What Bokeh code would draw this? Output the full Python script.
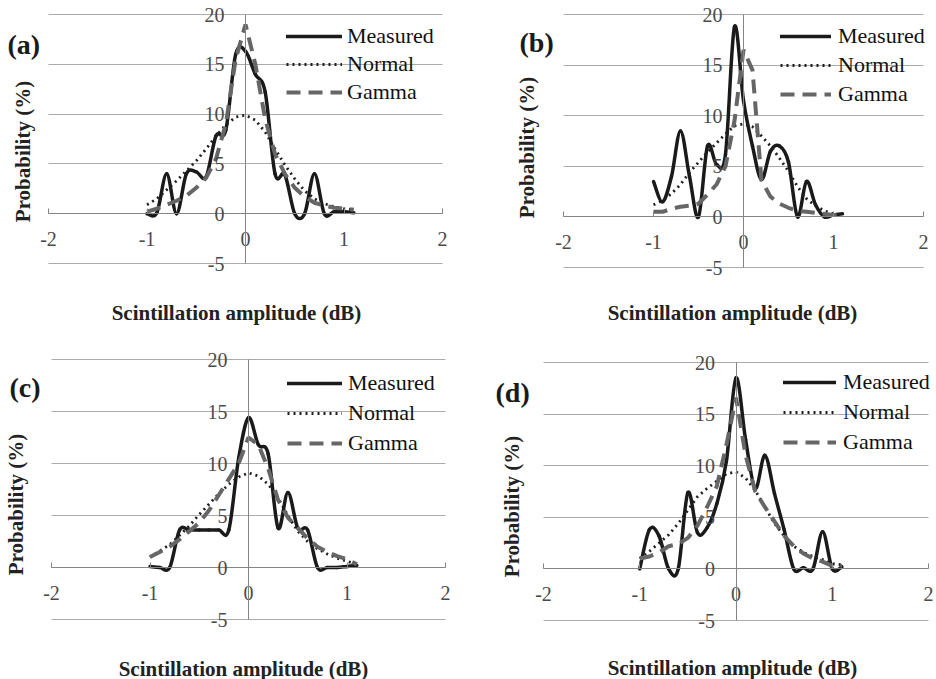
import math

from bokeh.embed import file_html
from bokeh.layouts import column, row
from bokeh.models import (FixedTicker, Grid, Label, Legend, LegendItem,
                          LinearAxis, Range1d)
from bokeh.plotting import figure
from bokeh.resources import INLINE

# ---------------------------------------------------------------------------
# Data: probability (%) of scintillation amplitude in 0.1 dB bins
# ---------------------------------------------------------------------------
amplitude = [-1.0, -0.9, -0.8, -0.7, -0.6, -0.5, -0.4, -0.3, -0.2, -0.1, 0.0,
             0.1, 0.2, 0.3, 0.4, 0.5, 0.6, 0.7, 0.8, 0.9, 1.0, 1.1]

x_ticks = [-2, -1, 0, 1, 2]
y_ticks = [-5, 0, 5, 10, 15, 20]

measured_a = [0.0, 0.1, 4.0, 0.0, 4.0, 4.2, 3.7, 7.8, 8.4, 16.0, 16.3,
              14.0, 12.2, 4.0, 3.9, 0.0, 0.0, 4.0, 0.0, 0.2, 0.2, 0.1]
normal_a = [0.9, 1.5, 2.4, 3.3, 4.3, 5.3, 6.5, 7.8, 8.9, 9.7, 9.9,
            9.4, 8.2, 6.5, 4.9, 3.5, 2.3, 1.5, 1.0, 0.7, 0.5, 0.4]
gamma_a = [0.2, 0.5, 0.9, 1.3, 1.8, 2.6, 3.6, 5.5, 9.0, 15.5, 19.0,
           15.0, 9.5, 6.0, 4.0, 2.6, 1.7, 1.1, 0.8, 0.6, 0.5, 0.4]

measured_b = [3.5, 1.5, 4.0, 8.5, 4.0, 0.0, 7.0, 5.2, 6.2, 18.8, 11.5,
              7.0, 3.7, 6.5, 7.0, 5.4, 0.0, 3.5, 1.2, 0.0, 0.2, 0.3]
normal_b = [1.2, 1.6, 2.3, 3.2, 4.4, 5.4, 6.4, 7.3, 8.2, 9.0, 9.2,
            8.9, 8.0, 7.0, 5.8, 4.5, 3.0, 1.8, 1.1, 0.6, 0.3, 0.2]
gamma_b = [0.5, 0.5, 0.8, 1.0, 1.1, 1.3, 2.2, 3.2, 5.0, 9.5, 16.5,
           14.5, 3.6, 2.0, 1.3, 0.9, 0.6, 0.5, 0.4, 0.3, 0.2, 0.1]

measured_c = [0.1, 0.0, 0.0, 3.6, 3.6, 3.6, 3.6, 3.6, 3.6, 10.5, 14.4,
              11.8, 10.9, 3.8, 7.2, 3.8, 3.6, 0.0, 0.0, 0.0, 0.1, 0.2]
normal_c = [1.0, 1.6, 2.2, 3.1, 4.0, 5.1, 6.1, 7.1, 8.0, 8.7, 9.1,
            8.8, 8.0, 6.7, 5.0, 3.5, 2.5, 1.8, 1.3, 0.9, 0.6, 0.3]
gamma_c = [1.0, 1.5, 2.0, 2.7, 3.5, 4.3, 5.5, 7.0, 8.5, 10.0, 12.5,
           11.8, 9.5, 6.5, 4.8, 3.8, 2.8, 2.0, 1.5, 1.1, 0.8, 0.3]

measured_d = [0.0, 3.8, 3.2, 0.0, 0.0, 7.4, 3.5, 4.0, 6.3, 10.4, 18.5,
              12.5, 7.8, 11.0, 7.3, 3.8, 0.0, 0.1, 0.0, 3.6, 0.0, 0.2]
normal_d = [1.0, 1.7, 2.5, 3.3, 4.4, 5.7, 7.0, 7.8, 8.5, 9.2, 9.4,
            8.8, 7.6, 6.0, 4.4, 3.2, 2.2, 1.6, 1.2, 0.9, 0.5, 0.4]
gamma_d = [1.0, 1.2, 1.6, 2.2, 2.4, 3.0, 4.2, 6.0, 8.0, 12.0, 16.6,
           11.0, 7.5, 6.0, 4.6, 3.2, 2.2, 1.5, 1.0, 0.7, 0.3, 0.3]

series_names = ["Measured", "Normal", "Gamma"]
x_title = "Scintillation amplitude (dB)"
y_title = "Probability (%)"

X_LIMITS = (-2, 2)
Y_LIMITS = (-5, 20)

SERIF = "Liberation Serif"
FIG_W = 468

MEASURED_STYLE = dict(line_color="#1a1a1a", line_width=3.5)
NORMAL_STYLE = dict(line_color="#1e1e1e", line_width=2.8, line_dash="2 4")
GAMMA_STYLE = dict(line_color="#666666", line_width=4, line_dash="14 8")


def smooth_segments(xs, ys):
    """Cubic Bezier pieces (Catmull-Rom) passing through every data point."""
    n = len(xs)
    seg = dict(x0=[], y0=[], x1=[], y1=[], cx0=[], cy0=[], cx1=[], cy1=[])
    for i in range(n - 1):
        a = max(i - 1, 0)
        d = min(i + 2, n - 1)
        seg["x0"].append(xs[i])
        seg["y0"].append(ys[i])
        seg["x1"].append(xs[i + 1])
        seg["y1"].append(ys[i + 1])
        seg["cx0"].append(xs[i] + (xs[i + 1] - xs[a]) / 6.0)
        seg["cy0"].append(ys[i] + (ys[i + 1] - ys[a]) / 6.0)
        seg["cx1"].append(xs[i + 1] - (xs[d] - xs[i]) / 6.0)
        seg["cy1"].append(ys[i + 1] - (ys[d] - ys[i]) / 6.0)
    return seg


def style_axis(axis, ticks, standoff):
    axis.axis_line_color = "#858585"
    axis.minor_tick_line_color = None
    axis.major_tick_out = 0
    axis.major_label_standoff = standoff
    axis.major_label_text_font = SERIF
    axis.major_label_text_font_size = "20px"
    axis.major_label_text_color = "#4a4a4a"
    # plain hyphen for negative tick values
    axis.major_label_overrides = {t: str(t) for t in ticks}


def make_panel(tag, measured, normal, gamma, height, box, tag_at,
               ytitle_at, xtitle_at, legend_at):
    # box: pixel edges (left, right, top, bottom) of the plotting area
    left, right, top, bottom = box
    kx = (X_LIMITS[1] - X_LIMITS[0]) / (right - left)
    ky = (Y_LIMITS[1] - Y_LIMITS[0]) / (bottom - top)
    x_range = Range1d(X_LIMITS[0] - left * kx, X_LIMITS[1] + (FIG_W - right) * kx)
    y_range = Range1d(Y_LIMITS[0] - (height - bottom) * ky, Y_LIMITS[1] + top * ky)

    p = figure(width=FIG_W, height=height, x_range=x_range, y_range=y_range,
               x_axis_type=None, y_axis_type=None,
               output_backend="svg", toolbar_location=None,
               min_border=0)
    p.outline_line_color = None
    p.background_fill_color = "white"
    p.border_fill_color = "white"

    # horizontal gridlines, limited to the plotting area
    grid = Grid(dimension=1, ticker=FixedTicker(ticks=y_ticks),
                bounds=Y_LIMITS, cross_bounds=X_LIMITS,
                grid_line_color="#ababab", grid_line_width=1)
    p.add_layout(grid)

    # axes crossing at the origin
    xaxis = LinearAxis(ticker=FixedTicker(ticks=x_ticks), fixed_location=0,
                       bounds=X_LIMITS)
    style_axis(xaxis, x_ticks, 18)
    xaxis.major_tick_line_color = "#858585"
    xaxis.major_tick_in = 5
    p.add_layout(xaxis, "below")

    yaxis = LinearAxis(ticker=FixedTicker(ticks=y_ticks), fixed_location=0,
                       bounds=Y_LIMITS)
    style_axis(yaxis, y_ticks, 21)
    yaxis.major_tick_line_color = None
    yaxis.major_tick_in = 0
    p.add_layout(yaxis, "left")

    # series
    r_m = p.bezier(line_cap="round", **smooth_segments(amplitude, measured),
                   **MEASURED_STYLE)
    r_n = p.line(amplitude, normal, **NORMAL_STYLE)
    r_g = p.line(amplitude, gamma, **GAMMA_STYLE)

    gx, gy0, pitch, gw, standoff = legend_at
    row_h = 26
    gap = int(round(pitch - row_h))
    legend_h = 3 * row_h + 2 * gap
    legend = Legend(
        items=[LegendItem(label=series_names[0], renderers=[r_m]),
               LegendItem(label=series_names[1], renderers=[r_n]),
               LegendItem(label=series_names[2], renderers=[r_g])],
        location=(gx, height - (gy0 - row_h // 2) - legend_h),
        glyph_width=gw, glyph_height=row_h, label_height=row_h,
        label_standoff=standoff, spacing=gap,
        padding=0, margin=0, border_line_color=None,
        background_fill_alpha=0,
        label_text_font=SERIF, label_text_font_size="22px",
        label_text_color="#111111")
    p.add_layout(legend)

    # panel tag and axis titles, positioned in figure pixels
    def sy(fy):
        return height - fy

    p.add_layout(Label(x=tag_at[0], y=sy(tag_at[1]), x_units="screen",
                       y_units="screen", text=tag, text_font=SERIF,
                       text_font_style="bold", text_font_size="28px",
                       text_color="#1a1a1a", text_baseline="middle",
                       text_align="left"))
    p.add_layout(Label(x=ytitle_at[0], y=sy(ytitle_at[1]), x_units="screen",
                       y_units="screen", text=y_title, text_font=SERIF,
                       text_font_style="bold", text_font_size="21px",
                       text_color="#222222", text_baseline="middle",
                       text_align="center", angle=math.pi / 2))
    p.add_layout(Label(x=xtitle_at[0], y=sy(xtitle_at[1]), x_units="screen",
                       y_units="screen", text=x_title, text_font=SERIF,
                       text_font_style="bold", text_font_size="21px",
                       text_color="#222222", text_baseline="middle",
                       text_align="center"))
    return p


pa = make_panel("(a)", measured_a, normal_a, gamma_a, 340,
                box=(48, 442, 14, 263), tag_at=(7, 44),
                ytitle_at=(22, 151), xtitle_at=(236, 312),
                legend_at=(286, 36, 28, 56, 5))
pb = make_panel("(b)", measured_b, normal_b, gamma_b, 340,
                box=(95, 455, 14, 267), tag_at=(51, 42),
                ytitle_at=(58, 147), xtitle_at=(264, 312),
                legend_at=(312, 36, 29, 51, 7))
pc = make_panel("(c)", measured_c, normal_c, gamma_c, 339,
                box=(51, 445, 19, 279), tag_at=(9, 47),
                ytitle_at=(15, 164), xtitle_at=(243, 328),
                legend_at=(287, 43, 30, 55, 6))
pd = make_panel("(d)", measured_d, normal_d, gamma_d, 339,
                box=(75, 460, 22, 280), tag_at=(27, 52),
                ytitle_at=(43, 166), xtitle_at=(264, 327),
                legend_at=(315, 42, 30, 53, 7))

layout = column(row(pa, pb), row(pc, pd))

with open("out.html", "w") as f:
    f.write(file_html(layout, INLINE))
